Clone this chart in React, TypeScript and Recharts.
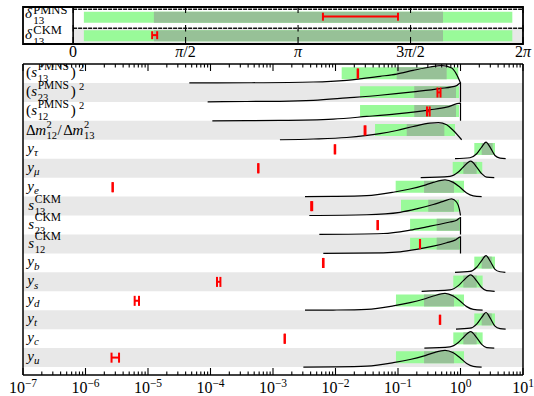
import React from 'react';
import { ComposedChart, XAxis, YAxis, ReferenceArea, ReferenceLine, Line, Scatter } from 'recharts';

const SERIF = '"Liberation Serif", "Times New Roman", serif';
const INK = '#000000';
const GRAY = '#e8e8e8';
const LIGHT = '#99fa99';
const DARK = '#97c197';
const RED = '#ff0000';

// ---------- top panel : CP phases ----------
const phaseRows = ['PMNS', 'CKM'];
const phaseTicks = [0, Math.PI / 2, Math.PI, (3 * Math.PI) / 2, 2 * Math.PI];
const phaseTickLabels = ['0', 'π/2', 'π', '3π/2', '2π'];
const phase95 = [[0.15, 6.134], [0.15, 6.134]];
const phase68 = [[1.128, 5.166], [1.128, 5.166]];
const phaseMeasured = [[3.489, 4.537], [1.104, 1.174]];
const phaseFlatLevel = [0.875, 0.85];
const PHASE_XMIN = -0.7;

// ---------- main panel ----------
const rowNames = [
  '(s_13^PMNS)^2', '(s_23^PMNS)^2', '(s_12^PMNS)^2', 'Δm_12^2/Δm_13^2',
  'y_τ', 'y_μ', 'y_e', 's_13^CKM', 's_23^CKM', 's_12^CKM',
  'y_b', 'y_s', 'y_d', 'y_t', 'y_c', 'y_u',
];
const decades = [1e-7, 1e-6, 1e-5, 1e-4, 1e-3, 1e-2, 1e-1, 1, 10];
const decadeLabels = ['−7', '−6', '−5', '−4', '−3', '−2', '−1', '0', '1'];
const minorSteps = [2, 3, 4, 5, 6, 7, 8, 9];

const interval95 = [
  [0.01256, 0.923], [0.0247, 0.946], [0.0247, 0.946], [0.0429, 0.817],
  [1.663, 3.56], [0.75, 2.23], [0.0918, 1.138], [0.1117, 0.946], [0.156, 1.0], [0.156, 1.0],
  [1.663, 3.56], [0.767, 2.26], [0.0928, 1.138], [1.663, 3.56], [0.767, 2.26], [0.0928, 1.138],
];
const interval68 = [
  [0.0953, 0.601], [0.182, 0.847], [0.182, 0.847], [0.138, 0.551],
  [2.18, 3.27], [1.11, 1.815], [0.261, 0.787], [0.305, 0.787], [0.416, 0.957], [0.416, 0.957],
  [2.18, 3.16], [1.11, 1.815], [0.261, 0.787], [2.18, 3.16], [1.11, 1.815], [0.261, 0.787],
];
const measured = [
  [0.0226, 0.023], [0.428, 0.479], [0.291, 0.321], [0.0292, 0.0302],
  [0.0097, 0.0099], [5.78e-4, 5.86e-4], [2.7e-6, 2.74e-6], [4.08e-3, 4.24e-3], [0.0468, 0.0478], [0.2245, 0.2255],
  [6.3e-3, 6.45e-3], [1.27e-4, 1.44e-4], [6.12e-6, 7.18e-6], [0.466, 0.474], [1.53e-3, 1.55e-3], [2.61e-6, 3.44e-6],
];

// posterior densities: [value, height relative to row]
const post_s13PMNS = [[4.58e-5, 0], [4.3e-4, 0.01], [4.42e-3, 0.05], [0.0151, 0.14], [0.0515, 0.35], [0.0953, 0.47], [0.174, 0.66], [0.325, 0.84], [0.5, 0.91], [0.723, 0.79], [0.869, 0.44], [1.0, 0]];
const post_s23PMNS = [[9.0e-5, 0], [3.79e-4, 0.02], [1.29e-3, 0.03], [4.42e-3, 0.08], [0.0151, 0.21], [0.0515, 0.35], [0.175, 0.53], [0.465, 0.7], [0.869, 0.86], [1.0, 1.0], [1.0003, 0]];
const post_s12PMNS = [[1.07e-4, 0], [1.29e-3, 0.02], [9.23e-3, 0.09], [0.0316, 0.23], [0.0953, 0.37], [0.325, 0.58], [0.601, 0.72], [1.0, 0.93], [1.0003, 0]];
const post_dm = [[1.29e-3, 0], [4.42e-3, 0.04], [0.0151, 0.12], [0.0515, 0.32], [0.0953, 0.49], [0.175, 0.7], [0.325, 0.88], [0.442, 0.91], [0.601, 0.79], [0.767, 0.49], [1.045, 0]];
const post_ytau = [[0.817, 0], [1.42, 0.05], [1.815, 0.26], [2.18, 0.61], [2.56, 0.88], [2.97, 0.61], [3.56, 0.17], [4.29, 0.03], [5.28, 0]];
const post_ymu = [[0.231, 0], [0.679, 0.07], [0.923, 0.3], [1.11, 0.56], [1.455, 0.87], [1.815, 0.56], [2.18, 0.21], [2.62, 0.03], [3.47, 0]];
const post_ye = [[3.25e-3, 0], [9.2e-3, 0.01], [0.0316, 0.05], [0.0841, 0.23], [0.156, 0.4], [0.254, 0.58], [0.367, 0.75], [0.565, 0.88], [0.767, 0.75], [0.982, 0.49], [1.256, 0.19], [1.6, 0.04], [2.18, 0]];
const post_s13CKM = [[3.81e-3, 0], [0.0316, 0.04], [0.108, 0.17], [0.199, 0.35], [0.367, 0.58], [0.531, 0.75], [0.723, 0.88], [0.869, 0.7], [0.957, 0.35], [1.0, 0]];
const post_s23CKM = [[5.51e-3, 0], [0.0582, 0.05], [0.156, 0.23], [0.288, 0.4], [0.47, 0.54], [0.679, 0.66], [0.869, 0.75], [1.0, 0.89], [1.0003, 0]];
const post_s12CKM = [[6.38e-3, 0], [0.0582, 0.03], [0.108, 0.08], [0.199, 0.21], [0.367, 0.38], [0.601, 0.56], [0.817, 0.7], [1.0, 0.87], [1.0003, 0]];
const post_yb = [[0.817, 0], [1.42, 0.05], [1.815, 0.27], [2.18, 0.62], [2.56, 0.88], [2.97, 0.6], [3.56, 0.16], [4.29, 0.03], [5.22, 0]];
const post_ys = [[0.239, 0], [0.679, 0.07], [0.923, 0.3], [1.11, 0.56], [1.455, 0.87], [1.815, 0.55], [2.18, 0.2], [2.62, 0.03], [3.52, 0]];
const post_yd = [[3.25e-3, 0], [9.2e-3, 0.01], [0.0316, 0.05], [0.0841, 0.23], [0.156, 0.4], [0.254, 0.58], [0.367, 0.75], [0.565, 0.89], [0.767, 0.75], [0.982, 0.49], [1.256, 0.19], [1.6, 0.04], [2.26, 0]];
const post_yt = [[0.847, 0], [1.42, 0.05], [1.815, 0.27], [2.18, 0.62], [2.56, 0.88], [2.97, 0.6], [3.56, 0.16], [4.29, 0.03], [5.28, 0]];
const post_yc = [[0.264, 0], [0.679, 0.07], [0.923, 0.3], [1.11, 0.56], [1.455, 0.87], [1.815, 0.55], [2.18, 0.2], [2.62, 0.03], [3.47, 0]];
const post_yu = [[3.06e-3, 0], [9.2e-3, 0.01], [0.0316, 0.05], [0.0841, 0.23], [0.156, 0.4], [0.254, 0.58], [0.367, 0.75], [0.565, 0.88], [0.767, 0.75], [0.982, 0.49], [1.256, 0.19], [1.6, 0.04], [2.18, 0]];

const posteriors = [
  post_s13PMNS, post_s23PMNS, post_s12PMNS, post_dm, post_ytau, post_ymu, post_ye,
  post_s13CKM, post_s23CKM, post_s12CKM, post_yb, post_ys, post_yd, post_yt, post_yc, post_yu,
];

const Y_MAX = 16.42;
const logTicks: number[] = [];
decades.forEach((d, i) => {
  logTicks.push(d);
  if (i < decades.length - 1) minorSteps.forEach((m) => logTicks.push(m * d));
});
const isMajor = (v: number) => decades.findIndex((d) => Math.abs(d - v) / d < 1e-9);
const curveData = posteriors.map((pts, k) => pts.map(([x, d]) => ({ x, y: k + 1 - d })));
const rowLabelData = rowNames.map((name, k) => ({ x: decades[0], y: k + 0.5, name, k }));
const phaseLabelData = phaseRows.map((name, k) => ({ x: PHASE_XMIN, y: k + 0.5, name, k }));

// ---------- text helpers ----------
const T = (p: { x: number; y: number; s: number; it?: boolean; children: React.ReactNode }) => (
  <text x={p.x} y={p.y} fontSize={p.s} fontStyle={p.it ? 'italic' : 'normal'} fontFamily={SERIF} fill={INK}>
    {p.children}
  </text>
);

function RowLabel({ x, y, name }: { x: number; y: number; name: string }) {
  const M = 15, S = 10.5, SUP = 11.5;
  let m = name.match(/^\(s_(\d+)\^(\w+)\)\^2$/);
  if (m) {
    const x0 = x + 3;
    return (
      <g>
        <T x={x0} y={y} s={M}>(</T>
        <T x={x0 + 5.2} y={y} s={M} it>s</T>
        <T x={x0 + 11.7} y={y - 7.3} s={SUP}>{m[2]}</T>
        <T x={x0 + 11.7} y={y + 5} s={S}>{m[1]}</T>
        <T x={x0 + 44.7} y={y} s={M}>)</T>
        <T x={x0 + 53} y={y - 6.8} s={S}>2</T>
      </g>
    );
  }
  m = name.match(/^Δm_(\d+)\^2\/Δm_(\d+)\^2$/);
  if (m) {
    const x0 = x + 3;
    const yy = y + 0.8;
    return (
      <g>
        <T x={x0} y={yy} s={M}>Δ</T>
        <T x={x0 + 9.2} y={yy} s={M} it>m</T>
        <T x={x0 + 20.5} y={yy - 7.3} s={S}>2</T>
        <T x={x0 + 20.5} y={yy + 4.3} s={S}>{m[1]}</T>
        <T x={x0 + 31.5} y={yy} s={M}>/</T>
        <T x={x0 + 37.3} y={yy} s={M}>Δ</T>
        <T x={x0 + 46.5} y={yy} s={M} it>m</T>
        <T x={x0 + 58} y={yy - 7.3} s={S}>2</T>
        <T x={x0 + 58} y={yy + 4.3} s={S}>{m[2]}</T>
      </g>
    );
  }
  m = name.match(/^s_(\d+)\^(\w+)$/);
  if (m) {
    const x0 = x + 5.3;
    return (
      <g>
        <T x={x0} y={y} s={M} it>s</T>
        <T x={x0 + 6.5} y={y - 7.5} s={SUP}>{m[2]}</T>
        <T x={x0 + 6.5} y={y + 5} s={S}>{m[1]}</T>
      </g>
    );
  }
  m = name.match(/^y_(.+)$/);
  if (m) {
    const x0 = x + 4.3;
    return (
      <g>
        <T x={x0} y={y - 0.5} s={M} it>y</T>
        <T x={x0 + 6.7} y={y + 2.7} s={11} it>{m[1]}</T>
      </g>
    );
  }
  return <T x={x} y={y} s={M}>{name}</T>;
}

const RowLabelShape = (props: any) => {
  const { cx, cy, payload } = props;
  if (cx == null || cy == null || !payload) return <g />;
  return <RowLabel x={cx} y={cy + 4} name={payload.name} />;
};

const phaseLabelDy = [2, 4];
const PhaseLabelShape = (props: any) => {
  const { cx, cy, payload } = props;
  if (cx == null || cy == null || !payload) return <g />;
  const k = payload.k;
  const x0 = cx + 2;
  const yy = cy + phaseLabelDy[k];
  return (
    <g>
      <T x={x0} y={yy} s={15} it>δ</T>
      <T x={x0 + 8.3} y={yy - 4.6} s={12.5}>{payload.name}</T>
      <T x={x0 + 8.3} y={yy + 6.2} s={11}>13</T>
    </g>
  );
};

const LogTickBottom = (props: any) => {
  const { x, y, payload } = props;
  const idx = isMajor(payload.value);
  const major = idx >= 0;
  return (
    <g>
      <line x1={x} x2={x} y1={y} y2={y - (major ? 7 : 3.5)} stroke={INK} strokeWidth={1.1} />
      {major && (
        <text x={x} y={y + 18.3} textAnchor="middle" fontFamily={SERIF} fontSize={16} fill={INK}>
          10<tspan dy={-6.6} fontSize={11.5}>{decadeLabels[idx]}</tspan>
        </text>
      )}
    </g>
  );
};

const LogTickTop = (props: any) => {
  const { x, y, payload } = props;
  const major = isMajor(payload.value) >= 0;
  return <line x1={x} x2={x} y1={y} y2={y + (major ? 7 : 3.5)} stroke={INK} strokeWidth={1.1} />;
};

const PhaseTickBottom = (props: any) => {
  const { x, y, payload } = props;
  const idx = phaseTicks.findIndex((t) => Math.abs(t - payload.value) < 1e-6);
  const lab = phaseTickLabels[idx] ?? '';
  const parts = lab.split('π');
  return (
    <g>
      <line x1={x} x2={x} y1={y} y2={y - 7} stroke={INK} strokeWidth={1.1} />
      <text x={x} y={y + 12.7} textAnchor="middle" fontFamily={SERIF} fontSize={16} fill={INK}>
        {parts.length === 1 ? (
          lab
        ) : (
          <>
            {parts[0] && <tspan>{parts[0]}</tspan>}
            <tspan fontStyle="italic">π</tspan>
            {parts[1] && <tspan>{parts[1]}</tspan>}
          </>
        )}
      </text>
    </g>
  );
};

const PhaseTickTop = (props: any) => {
  const { x, y } = props;
  return <line x1={x} x2={x} y1={y} y2={y + 6} stroke={INK} strokeWidth={1.1} />;
};

function PhasePanel() {
  const ax = { xAxisId: 'b', yAxisId: 'y' } as const;
  return (
    <ComposedChart width={534} height={62} margin={{ top: 6, right: 11, left: 23, bottom: 0 }}>
      <ReferenceArea {...ax} x1={0} x2={2 * Math.PI} y1={1.15} y2={2} fill={GRAY} fillOpacity={1} stroke="none" />
      {phaseRows.map((_, k) => (
        <ReferenceArea key={'p95' + k} {...ax} x1={phase95[k][0]} x2={phase95[k][1]} y1={k + 0.25} y2={k + 0.85} fill={LIGHT} fillOpacity={1} stroke="none" />
      ))}
      {phaseRows.map((_, k) => (
        <ReferenceArea key={'p68' + k} {...ax} x1={phase68[k][0]} x2={phase68[k][1]} y1={k + 0.25} y2={k + 0.85} fill={DARK} fillOpacity={1} stroke="none" />
      ))}
      {phaseRows.map((_, k) => (
        <Line
          key={'pf' + k}
          {...ax}
          data={[{ x: 0, y: k + 1 - phaseFlatLevel[k] }, { x: 2 * Math.PI, y: k + 1 - phaseFlatLevel[k] }]}
          dataKey="y"
          type="linear"
          dot={false}
          stroke="#111"
          strokeWidth={1.6}
          strokeDasharray="4 1"
          isAnimationActive={false}
        />
      ))}
      {phaseRows.map((_, k) => (
        <ReferenceLine key={'pm' + k} {...ax} segment={[{ x: phaseMeasured[k][0], y: k + 0.52 }, { x: phaseMeasured[k][1], y: k + 0.52 }]} stroke={RED} strokeWidth={2} />
      ))}
      {phaseRows.map((_, k) => (
        <ReferenceLine key={'pl' + k} {...ax} segment={[{ x: phaseMeasured[k][0], y: k + 0.31 }, { x: phaseMeasured[k][0], y: k + 0.74 }]} stroke={RED} strokeWidth={2} />
      ))}
      {phaseRows.map((_, k) => (
        <ReferenceLine key={'ph' + k} {...ax} segment={[{ x: phaseMeasured[k][1], y: k + 0.31 }, { x: phaseMeasured[k][1], y: k + 0.74 }]} stroke={RED} strokeWidth={2} />
      ))}
      {phaseTicks.map((t) => (
        <ReferenceLine key={'st' + t} {...ax} segment={[{ x: t, y: 0.97 }, { x: t, y: 1.33 }]} stroke={INK} strokeWidth={1.1} />
      ))}
      <ReferenceLine {...ax} x={0} stroke={INK} strokeWidth={1.6} />
      <ReferenceArea {...ax} x1={PHASE_XMIN} x2={2 * Math.PI} y1={0} y2={2} fill="none" stroke={INK} strokeWidth={1.8} />
      <Scatter {...ax} data={phaseLabelData} dataKey="y" shape={PhaseLabelShape} isAnimationActive={false} />
      <XAxis xAxisId="b" dataKey="x" type="number" domain={[PHASE_XMIN, 2 * Math.PI]} allowDataOverflow ticks={phaseTicks} interval={0} height={18} tickLine={false} tickSize={0} tickMargin={0} axisLine={false} tick={PhaseTickBottom} />
      <XAxis xAxisId="t" orientation="top" dataKey="x" type="number" domain={[PHASE_XMIN, 2 * Math.PI]} allowDataOverflow ticks={phaseTicks} interval={0} height={1} tickLine={false} tickSize={0} tickMargin={0} axisLine={false} tick={PhaseTickTop} />
      <YAxis yAxisId="y" dataKey="y" type="number" domain={[0, 2]} reversed allowDataOverflow hide />
    </ComposedChart>
  );
}

function MainPanel() {
  const ax = { xAxisId: 'b', yAxisId: 'y' } as const;
  return (
    <ComposedChart width={534} height={396} margin={{ top: 63, right: 11, left: 23, bottom: 0 }}>
      {rowNames.map((_, k) =>
        k % 2 === 1 ? (
          <ReferenceArea key={'g' + k} {...ax} x1={1e-7} x2={10} y1={k} y2={k + 1} fill={GRAY} fillOpacity={1} stroke="none" />
        ) : null
      )}
      {rowNames.map((_, k) => (
        <ReferenceArea key={'l' + k} {...ax} x1={interval95[k][0]} x2={interval95[k][1]} y1={k + 0.17} y2={k + 0.8} fill={LIGHT} fillOpacity={1} stroke="none" />
      ))}
      {rowNames.map((_, k) => (
        <ReferenceArea key={'d' + k} {...ax} x1={interval68[k][0]} x2={interval68[k][1]} y1={k + 0.17} y2={k + 0.8} fill={DARK} fillOpacity={1} stroke="none" />
      ))}
      {curveData.map((data, k) => (
        <Line key={'c' + k} {...ax} data={data} dataKey="y" type="monotone" dot={false} stroke={INK} strokeWidth={1.2} isAnimationActive={false} />
      ))}
      {rowNames.map((_, k) => (
        <ReferenceLine key={'m' + k} {...ax} segment={[{ x: measured[k][0], y: k + 0.5 }, { x: measured[k][1], y: k + 0.5 }]} stroke={RED} strokeWidth={2} />
      ))}
      {rowNames.map((_, k) => (
        <ReferenceLine key={'ml' + k} {...ax} segment={[{ x: measured[k][0], y: k + 0.24 }, { x: measured[k][0], y: k + 0.77 }]} stroke={RED} strokeWidth={2} />
      ))}
      {rowNames.map((_, k) => (
        <ReferenceLine key={'mh' + k} {...ax} segment={[{ x: measured[k][1], y: k + 0.24 }, { x: measured[k][1], y: k + 0.77 }]} stroke={RED} strokeWidth={2} />
      ))}
      <ReferenceLine {...ax} x={10} stroke={INK} strokeWidth={1.5} />
      <ReferenceLine {...ax} x={1e-7} stroke={INK} strokeWidth={1.5} />
      <Scatter {...ax} data={rowLabelData} dataKey="y" shape={RowLabelShape} isAnimationActive={false} />
      <XAxis xAxisId="b" dataKey="x" type="number" scale="log" domain={[1e-7, 10]} allowDataOverflow ticks={logTicks} interval={0} height={21} tickLine={false} tickSize={0} tickMargin={0} axisLine={{ stroke: INK, strokeWidth: 1.5 }} tick={LogTickBottom} />
      <XAxis xAxisId="t" orientation="top" dataKey="x" type="number" scale="log" domain={[1e-7, 10]} allowDataOverflow ticks={logTicks} interval={0} height={1} tickLine={false} tickSize={0} tickMargin={0} axisLine={{ stroke: INK, strokeWidth: 1.5 }} tick={LogTickTop} />
      <YAxis yAxisId="y" dataKey="y" type="number" domain={[0, Y_MAX]} reversed allowDataOverflow hide />
    </ComposedChart>
  );
}

export default function App() {
  return (
    <div style={{ position: 'absolute', left: 0, top: 0, width: 534, height: 396, background: '#fff' }}>
      <div style={{ position: 'absolute', left: 0, top: 0 }}>
        <MainPanel />
      </div>
      <div style={{ position: 'absolute', left: 0, top: 0 }}>
        <PhasePanel />
      </div>
    </div>
  );
}
